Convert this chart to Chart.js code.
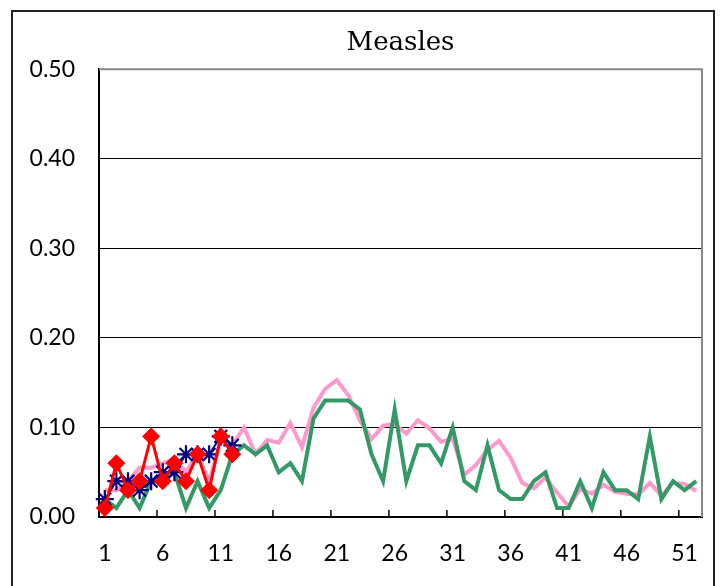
<!DOCTYPE html>
<html>
<head>
<meta charset="utf-8">
<script src="https://cdn.jsdelivr.net/npm/chart.js@4/dist/chart.umd.min.js"></script>
<style>
  body { margin: 0; background: #fff; }
</style>
</head>
<body>
<canvas id="measles-chart" width="723" height="586"></canvas>
<script>
// week numbers on the x axis
var weeks = [1, 2, 3, 4, 5, 6, 7, 8, 9, 10, 11, 12, 13, 14, 15, 16, 17, 18, 19, 20,
  21, 22, 23, 24, 25, 26, 27, 28, 29, 30, 31, 32, 33, 34, 35, 36, 37, 38, 39, 40,
  41, 42, 43, 44, 45, 46, 47, 48, 49, 50, 51, 52];
var xTickLabels = ['1', '6', '11', '16', '21', '26', '31', '36', '41', '46', '51'];

// red diamonds - current season
var thisSeason = [0.01, 0.06, 0.03, 0.04, 0.09, 0.04, 0.06, 0.04, 0.07, 0.03, 0.09, 0.07];
// navy stars - last season
var lastSeason = [0.02, 0.04, 0.04, 0.03, 0.04, 0.05, 0.05, 0.07, 0.07, 0.07, 0.09, 0.08];
// green line
var greenSeason = [0.02, 0.01, 0.03, 0.01, 0.04, 0.04, 0.05, 0.01, 0.04, 0.01, 0.03, 0.07,
  0.08, 0.07, 0.08, 0.05, 0.06, 0.04, 0.11, 0.13, 0.13, 0.13, 0.12, 0.07, 0.04, 0.12,
  0.04, 0.08, 0.08, 0.06, 0.10, 0.04, 0.03, 0.08, 0.03, 0.02, 0.02, 0.04, 0.05, 0.01,
  0.01, 0.04, 0.01, 0.05, 0.03, 0.03, 0.02, 0.09, 0.02, 0.04, 0.03, 0.04];
// pink line
var pinkSeason = [0.03, 0.03, 0.04, 0.055, 0.055, 0.06, 0.065, 0.05, 0.07, 0.04, 0.085, 0.08,
  0.10, 0.07, 0.086, 0.083, 0.105, 0.078, 0.122, 0.143, 0.153, 0.136, 0.108, 0.087, 0.102, 0.104,
  0.093, 0.108, 0.099, 0.084, 0.087, 0.047, 0.058, 0.075, 0.085, 0.066, 0.038, 0.032, 0.044, 0.027,
  0.012, 0.031, 0.026, 0.036, 0.028, 0.026, 0.025, 0.038, 0.024, 0.038, 0.037, 0.029];

Chart.defaults.font.family = 'Lato';
Chart.defaults.color = '#000';

var framePlugin = {
  id: 'frame',
  beforeDraw: function(chart) {
    var c = chart.ctx;
    c.save();
    c.strokeStyle = '#222';
    c.lineWidth = 2;
    c.strokeRect(12, 11, 702, 620);
    c.restore();
  },
  beforeDatasetsDraw: function(chart) {
    var c = chart.ctx, a = chart.chartArea, x = chart.scales.x;
    c.save();
    // plot area edge, top and right
    c.strokeStyle = '#888';
    c.lineWidth = 2;
    c.beginPath();
    c.moveTo(a.left, a.top);
    c.lineTo(a.right, a.top);
    c.lineTo(a.right, a.bottom);
    c.stroke();
    // short inward tick marks every 5 weeks, between categories
    var half = (x.getPixelForValue(1) - x.getPixelForValue(0)) / 2;
    c.strokeStyle = '#000';
    c.lineWidth = 1.5;
    for (var i = 0; i < weeks.length; i += 5) {
      var px = x.getPixelForValue(i) - half;
      c.beginPath();
      c.moveTo(px, a.bottom);
      c.lineTo(px, a.bottom - 7);
      c.stroke();
    }
    c.restore();
  }
};

var ctx = document.getElementById("measles-chart").getContext('2d');
var myChart = new Chart(ctx, {
  type: 'line',
  data: {
    labels: weeks,
    datasets: [{
      label: 'This season',
      data: thisSeason,
      borderColor: '#FF0000',
      backgroundColor: '#FF0000',
      borderWidth: 3,
      pointStyle: 'rectRot',
      pointRadius: 8.5,
      pointBorderWidth: 1,
      order: 1
    }, {
      label: 'Last season',
      data: lastSeason,
      borderColor: '#000080',
      backgroundColor: '#000080',
      borderWidth: 2,
      pointStyle: 'star',
      pointRadius: 9,
      pointBorderWidth: 2.2,
      order: 2
    }, {
      label: 'Green',
      data: greenSeason,
      borderColor: '#339966',
      borderWidth: 4,
      pointRadius: 0,
      order: 3
    }, {
      label: 'Pink',
      data: pinkSeason,
      borderColor: '#FF99CC',
      borderWidth: 4,
      pointRadius: 0,
      order: 4
    }]
  },
  options: {
    responsive: false,
    animation: false,
    layout: { padding: { left: 0, right: 21, top: 0, bottom: 0 } },
    elements: { line: { tension: 0 } },
    plugins: {
      legend: { display: false },
      tooltip: { enabled: false },
      title: {
        display: true,
        text: 'Measles',
        fullSize: false,
        color: '#000',
        font: { family: 'DejaVu Serif', size: 26, weight: 'normal' },
        padding: { top: 28, bottom: 10 }
      }
    },
    scales: {
      x: {
        type: 'category',
        offset: true,
        grid: { display: false, drawTicks: false },
        border: { display: true, color: '#000', width: 2 },
        ticks: {
          autoSkip: false,
          maxRotation: 0,
          padding: 23,
          font: { size: 23 },
          callback: function(val) {
            var l = String(this.getLabelForValue(val));
            return xTickLabels.indexOf(l) >= 0 ? l : '';
          }
        },
        afterFit: function(scale) { scale.height = 69; }
      },
      y: {
        min: 0,
        max: 0.5,
        grid: {
          drawTicks: false,
          lineWidth: 1,
          color: function(c) {
            if (c.tick.value <= 0 || c.tick.value >= 0.5) return 'rgba(0,0,0,0)';
            return '#000';
          }
        },
        border: { display: true, color: '#000', width: 2 },
        ticks: {
          stepSize: 0.1,
          padding: 24,
          font: { size: 23 },
          callback: function(v) { return v.toFixed(2); }
        },
        afterFit: function(scale) { scale.width = 99; }
      }
    }
  },
  plugins: [framePlugin]
});
</script>
</body>
</html>
